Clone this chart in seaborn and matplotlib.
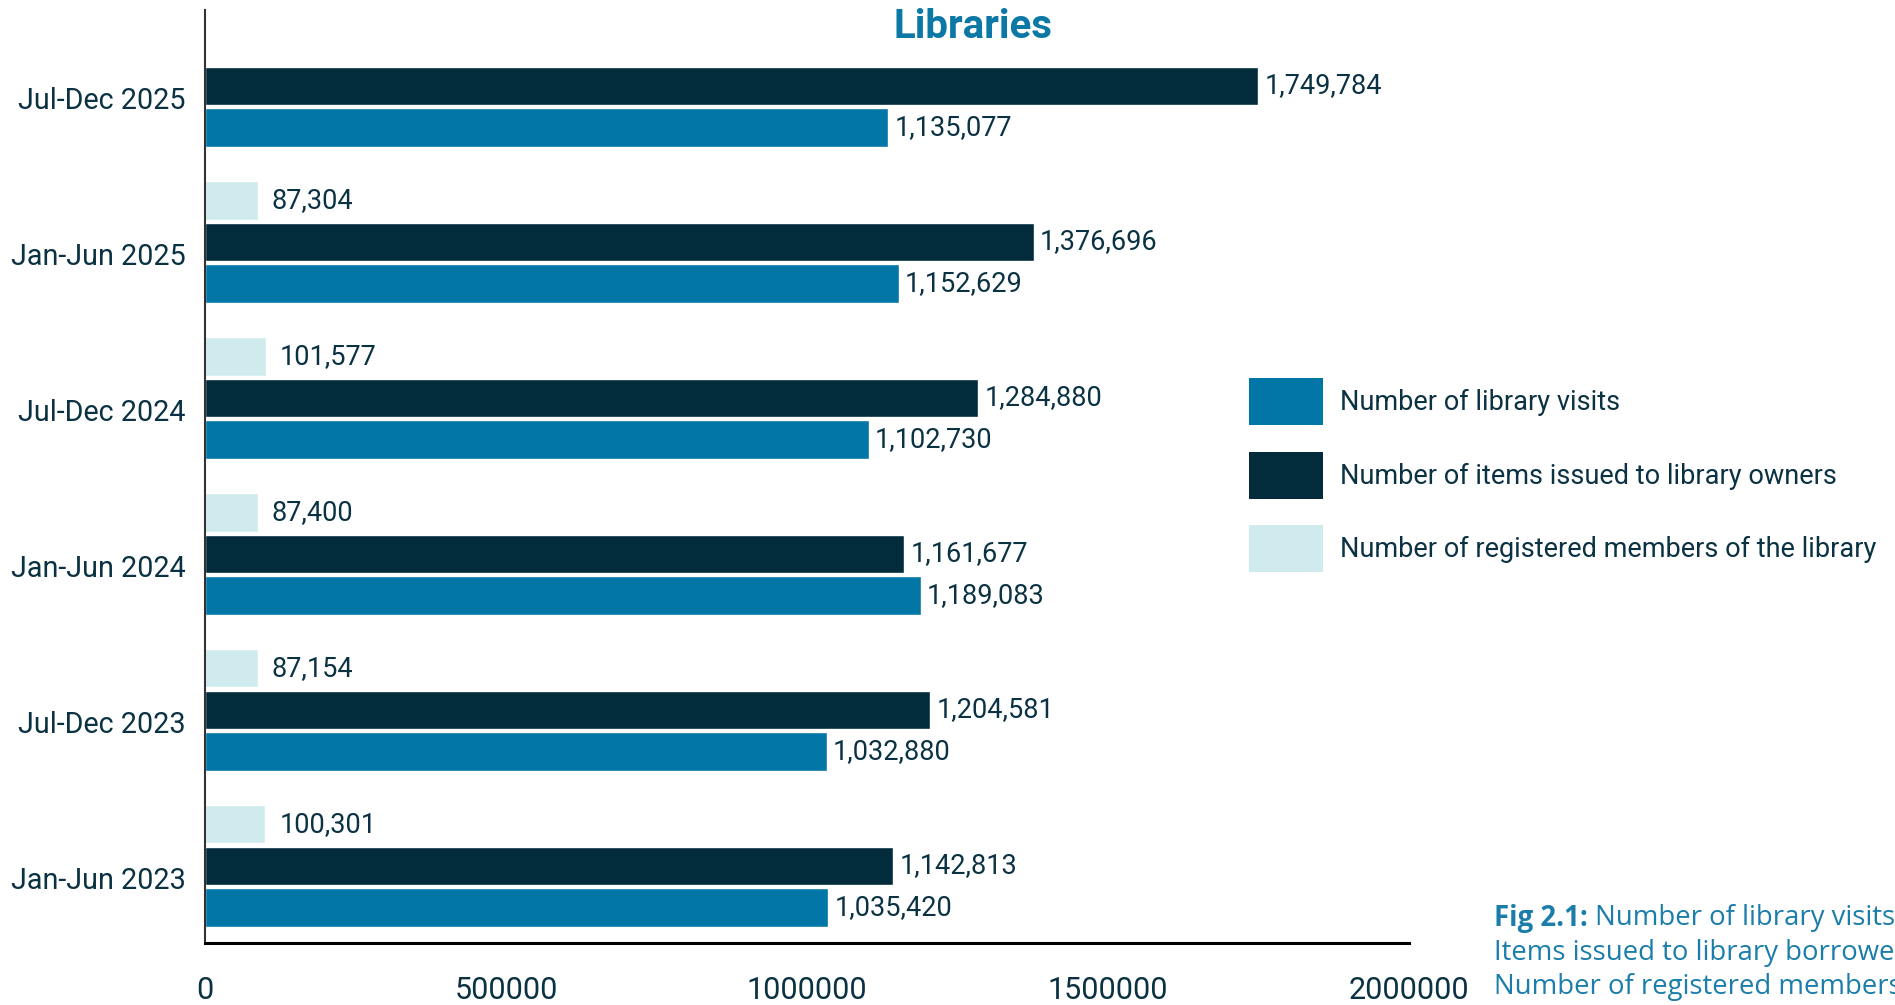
import numpy as np
import pandas as pd
import matplotlib
matplotlib.use('Agg')
import matplotlib.pyplot as plt
from matplotlib.patches import Patch
import seaborn as sns

# data
periods = ['Jul-Dec 2025', 'Jan-Jun 2025', 'Jul-Dec 2024', 'Jan-Jun 2024', 'Jul-Dec 2023', 'Jan-Jun 2023']
visits = [1135077, 1152629, 1102730, 1189083, 1032880, 1035420]
items = [1749784, 1376696, 1284880, 1161677, 1204581, 1142813]
members = [np.nan, 87304, 101577, 87400, 87154, 100301]

series_names = ['Number of library visits',
                'Number of items issued to library owners',
                'Number of registered members of the library']
x_ticks = [0, 500000, 1000000, 1500000, 2000000]

col_visits = '#0277A7'
col_items = '#022C3C'
col_members = '#CFEBEE'
text_col = '#0B3242'
title_col = '#0B78A6'
cap_col = '#1A7DAA'

sns.set_theme(style='white')
plt.rcParams['font.family'] = ['Roboto', 'DejaVu Sans']

df = pd.DataFrame({
    'period': periods * 3,
    'series': [series_names[0]] * 6 + [series_names[1]] * 6 + [series_names[2]] * 6,
    'value': visits + items + members,
})

fig = plt.figure(figsize=(18.95, 10.05), dpi=100)
ax = fig.add_axes([0.1082, 0.0617, 0.6353, 0.9283])

sns.barplot(data=df, y='period', x='value', hue='series', order=periods,
            hue_order=[series_names[2], series_names[1], series_names[0]],
            palette=[col_members, col_items, col_visits], saturation=1,
            width=0.8, gap=0.08, orient='h', legend=False, ax=ax)

# value labels
for cont, pad in zip(ax.containers, [10, 4.5, 4.5]):
    ax.bar_label(cont, fmt='{:,.0f}', padding=pad, fontsize=19.5, color=text_col)

ax.set_xlim(0, 2000000)
ax.set_ylim(5.494, -0.487)
ax.set_xticks(x_ticks, [str(t) for t in x_ticks])
ax.set_yticks(np.arange(len(periods)) + 0.08, periods)
ax.set_xlabel('')
ax.set_ylabel('')

ax.tick_params(axis='x', direction='in', length=16, width=1.5, color='black',
               labelsize=22, labelcolor=text_col, pad=24)
ax.tick_params(axis='y', length=0, labelsize=20.7, labelcolor=text_col, pad=14)

for s in ['top', 'right']:
    ax.spines[s].set_visible(False)
ax.spines['left'].set_color('#333333')
ax.spines['left'].set_linewidth(1.5)
ax.spines['bottom'].set_color('black')
ax.spines['bottom'].set_linewidth(2.2)

fig.text(0.5135, 0.973, 'Libraries', ha='center', va='center',
         fontsize=29, fontweight='bold', color=title_col)

handles = [Patch(facecolor=c, edgecolor='none') for c in [col_visits, col_items, col_members]]
fig.legend(handles, series_names, loc='upper left',
           bbox_to_anchor=(1249 / 1895, 1 - 378 / 1005), frameon=False,
           fontsize=19.5, handlelength=2.75, handleheight=2.3,
           handletextpad=0.6, labelspacing=0.98, borderpad=0, borderaxespad=0,
           labelcolor=text_col)

# caption, clipped at the right edge like the original
cap_font = ['Open Sans', 'DejaVu Sans']
cap_x = 1494 / 1895
fig_t = fig.text(cap_x, 1 - 918 / 1005, 'Fig 2.1:', ha='left', va='center',
                 fontsize=19.8, fontweight='bold', color=cap_col, family=cap_font)
ax.annotate(' Number of library visits,', xy=(1, 0.5), xycoords=fig_t,
            ha='left', va='center', fontsize=19.8, color=cap_col, family=cap_font,
            annotation_clip=False)
fig.text(cap_x, 1 - 953 / 1005, 'Items issued to library borrowers and', ha='left',
         va='center', fontsize=19.8, color=cap_col, family=cap_font)
fig.text(cap_x, 1 - 987 / 1005, 'Number of registered members', ha='left',
         va='center', fontsize=19.8, color=cap_col, family=cap_font)

fig.savefig('out.png', dpi=100)
